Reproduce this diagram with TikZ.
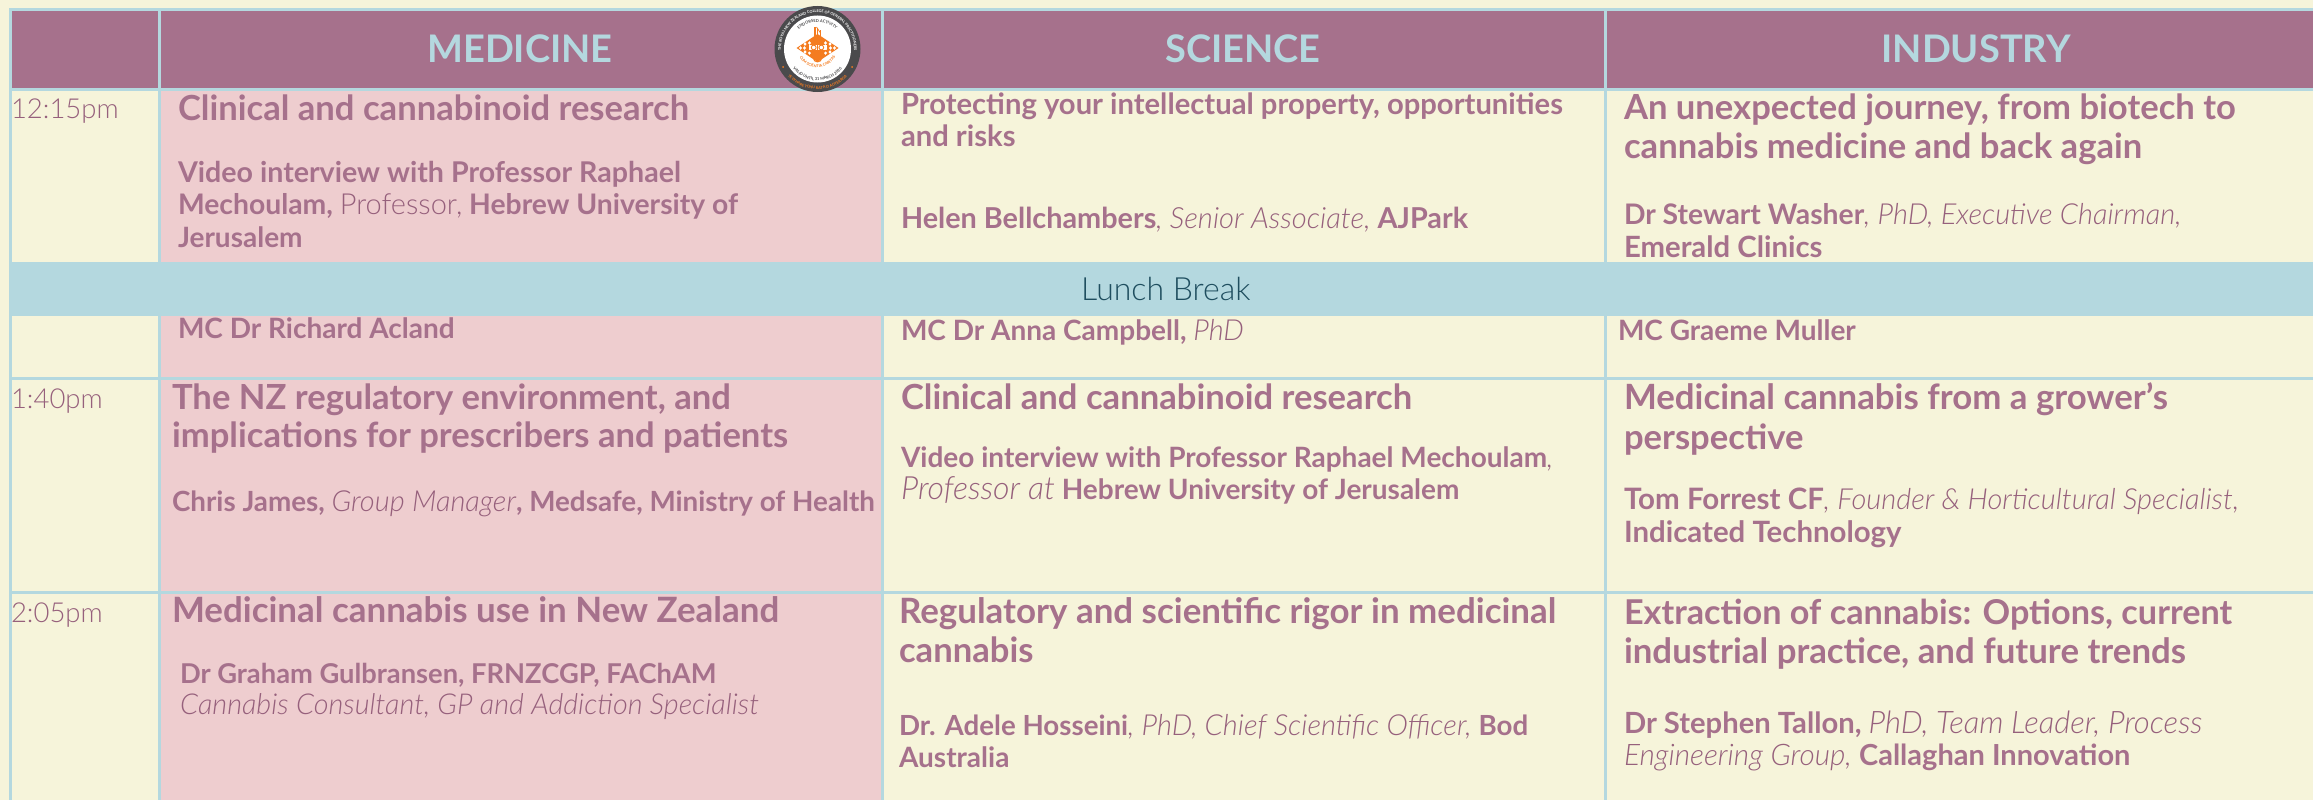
\documentclass[tikz,border=0pt]{standalone}
\usepackage{fontspec}
\setmainfont{Lato}
\newfontfamily\lightf{Lato Light}
\usetikzlibrary{decorations.text}
\definecolor{cream}{HTML}{F6F4DA}
\definecolor{plum}{HTML}{A6718C}
\definecolor{lplum}{HTML}{96607C}
\definecolor{rosy}{HTML}{EECDCF}
\definecolor{aqua}{HTML}{B4D8DF}
\definecolor{teal}{HTML}{1F4E5F}
\definecolor{ringc}{HTML}{4A4A4C}
\definecolor{org}{HTML}{F47C20}
\newcommand{\lt}[2][29]{{\color{lplum}\lightf\itshape\mdseries\fontsize{#1}{#1}\selectfont #2}}
\newcommand{\lr}[1]{{\color{lplum}\lightf\upshape\mdseries\fontsize{29}{29}\selectfont #1}}
\newcommand{\sz}[1]{\fontsize{#1}{#1}\selectfont\bfseries}
\tikzset{
 ln/.style={inner sep=0,outer sep=0,anchor=base west,text=plum},
 ttl/.style={ln,font=\fontsize{34.6}{35}\selectfont\bfseries},
 bod/.style={ln,font=\fontsize{28}{28}\selectfont\bfseries},
 tim/.style={ln,text=lplum,font=\lightf\fontsize{27.5}{28}\selectfont},
 hdr/.style={inner sep=0,outer sep=0,anchor=base,text=aqua,font=\fontsize{38}{38}\selectfont\bfseries},
 rule/.style={draw=aqua,line width=3pt},
}
\begin{document}
\begin{tikzpicture}[x=1pt,y=-1pt]
\useasboundingbox (0,0) rectangle (2313,800);
\fill[cream] (0,0) rectangle (2313,800);
% fills
\fill[rosy] (159,89) rectangle (882,800);
\fill[plum] (10,10) rectangle (2313,89);
% grid
\draw[rule] (10,800) -- (10,10) -- (2313,10);
\draw[rule] (159,10) -- (159,800);
\draw[rule] (882,10) -- (882,800);
\draw[rule] (1605,10) -- (1605,800);
\draw[rule] (10,89) -- (2313,89);
\draw[rule] (10,378) -- (2313,378);
\draw[rule] (10,592) -- (2313,592);
% lunch
\fill[aqua] (8.5,262) rectangle (2313,316);
\node[inner sep=0,anchor=base west,text=teal,font=\lightf\fontsize{32}{32}\selectfont] (lunch) at (1081,300) {Lunch Break};
% headers
\node[hdr] (hmed) at (520,63) {MEDICINE};
\node[hdr] (hsci) at (1243,63) {SCIENCE};
\node[hdr] (hind) at (1976,63) {INDUSTRY};
% times
\node[tim] (t1) at (11,118) {12:15pm};
\node[tim] (t2) at (11,408) {1:40pm};
\node[tim] (t3) at (11,622) {2:05pm};
% medicine
\node[ttl] (a1) at (178,120) {Clinical and cannabinoid research};
\node[bod] (a2) at (178,182) {\sz{28.6}Video interview with Professor Raphael};
\node[bod] (a3) at (178,214) {\sz{28.3}Mechoulam, \lr{Professor,} Hebrew University of};
\node[bod] (a4) at (178,247) {Jerusalem};
\node[bod] (a5) at (178,338) {MC Dr Richard Acland};
\node[ttl] (a6) at (172,409) {The NZ regulatory environment, and};
\node[ttl] (a7) at (172,447) {implications for prescribers and patients};
\node[bod] (a8) at (172,511) {\sz{27.8}Chris James, \lt{Group Manager}, Medsafe, Ministry of Health};
\node[ttl] (a9) at (172,622) {\sz{34.9}Medicinal cannabis use in New Zealand};
\node[bod] (a10) at (180,683) {\sz{27.3}Dr Graham Gulbransen, FRNZCGP, FAChAM};
\node[bod] (a11) at (180,714) {\lt[28.8]{Cannabis Consultant, GP and Addiction Specialist}};
% science
\node[bod] (b1) at (901,114) {\sz{29.2}Protecting your intellectual property, opportunities};
\node[bod] (b2) at (901,146) {\sz{29.2}and risks};
\node[bod] (b3) at (901,228) {\sz{28.8}Helen Bellchambers\lt[29.2]{, Senior Associate, }AJPark};
\node[bod] (b4) at (901,340) {MC Dr Anna Campbell, \lt{PhD}};
\node[ttl] (b5) at (901,409) {Clinical and cannabinoid research};
\node[bod] (b6) at (901,467) {Video interview with Professor Raphael Mechoulam\lt{,}};
\node[bod] (b7) at (901,499) {\lt[32]{Professor at} Hebrew University of Jerusalem};
\node[ttl] (b8) at (899,623) {\sz{34.9}Regulatory and scientific rigor in medicinal};
\node[ttl] (b9) at (899,662) {cannabis};
\node[bod] (b10) at (899,735) {\sz{27.7}Dr. Adele Hosseini\lt{, PhD, Chief Scientific Officer, }Bod};
\node[bod] (b11) at (899,767) {Australia};
% industry
\node[ttl] (c1) at (1624,119) {An unexpected journey, from biotech to};
\node[ttl] (c2) at (1624,158) {cannabis medicine and back again};
\node[bod] (c3) at (1624,224) {\sz{28.3}Dr Stewart Washer\lt{, PhD, Executive Chairman,}};
\node[bod] (c4) at (1624,257) {\sz{29.3}Emerald Clinics};
\node[bod] (c5) at (1618,340) {MC Graeme Muller};
\node[ttl] (c6) at (1624,409) {\sz{34.8}Medicinal cannabis from a grower’s};
\node[ttl] (c7) at (1624,449) {perspective};
\node[bod] (c8) at (1624,509) {\sz{29.5}Tom Forrest CF\lt{, Founder \& Horticultural Specialist,}};
\node[bod] (c9) at (1624,542) {\sz{29.4}Indicated Technology};
\node[ttl] (c10) at (1624,624) {\sz{34.2}Extraction of cannabis: Options, current};
\node[ttl] (c11) at (1624,663) {\sz{34.8}industrial practice, and future trends};
\node[bod] (c12) at (1624,733) {\sz{29.2}Dr Stephen Tallon, \lt[31]{PhD, Team Leader, Process}};
\node[bod] (c13) at (1624,765) {\sz{29}\lt[29.7]{Engineering Group, }Callaghan Innovation};
% badge
\begin{scope}[shift={(817.5,49)},x=1pt,y=1pt]
\fill[ringc] (0,0) circle (43);
\fill[white] (0,0) circle (33.5);
\path[decorate,decoration={text along path,text align=center,
  text={|\fontsize{3.7}{5}\selectfont\bfseries\color{white}|THE ROYAL NEW ZEALAND COLLEGE OF GENERAL PRACTITIONERS}}]
  (-34.3,-12.5) arc[start angle=200,end angle=-20,radius=36.5];
\path[decorate,decoration={text along path,text align=center,
  text={|\fontsize{3.7}{5}\selectfont\bfseries\color{org}|TE WHARE TOHU RATA O AOTEAROA}}]
  (-33,-23.1) arc[start angle=215,end angle=325,radius=40.3];
\fill[org] (-34.5,-18) circle (1);
\fill[org] (34.5,-18) circle (1);
\path[decorate,decoration={text along path,text align=center,
  text={|\fontsize{4}{5}\selectfont\bfseries\color{ringc}|ENDORSED ACTIVITY}}]
  (-22.7,14.7) arc[start angle=147,end angle=33,radius=27];
\path[decorate,decoration={text along path,text align=center,
  text={|\fontsize{4}{5}\selectfont\bfseries\color{ringc}|VALID UNTIL 31 MARCH 2026}}]
  (-29,-12.3) arc[start angle=203,end angle=337,radius=31.5];
\fill[org] (-21,1) -- (0,15) -- (21,1) -- (0,-13) -- cycle;
\foreach \p in {(-13,1),(13,1),(-8,6),(8,6),(-8,-4),(8,-4),(-17,1),(17,1),(-12.5,5),(12.5,5),(-12.5,-3),(12.5,-3)}
  \fill[white] \p ++(-1.5,0) -- ++(1.5,1.8) -- ++(1.5,-1.8) -- ++(-1.5,-1.8) -- cycle;
\fill[white] (-9,-1) rectangle (9,4);
\draw[org,line width=.9] (-3.8,1.5) circle (2.4) (3.8,1.5) circle (2.4);
\draw[org,line width=.9] (0,-9) ellipse (4.2 and 4);
\draw[org,line width=1] (0,-13) -- (0,20);
\draw[org,line width=1] (-4,-5) -- (-9,-1) (4,-5) -- (9,-1);
\fill[org] (-4,11) rectangle (-2,22);
\fill[org] (2,11) rectangle (3.6,19);
\draw[org,line width=.8] (-1,22) -- (3,16);
\path[decorate,decoration={text along path,text align=center,
  text={|\fontsize{3.8}{5}\selectfont\bfseries\color{org}|CUM SCIENTIA CARITAS}}]
  (-20,-3) arc[start angle=195,end angle=345,radius=20.7];
\end{scope}
\end{tikzpicture}
\end{document}
